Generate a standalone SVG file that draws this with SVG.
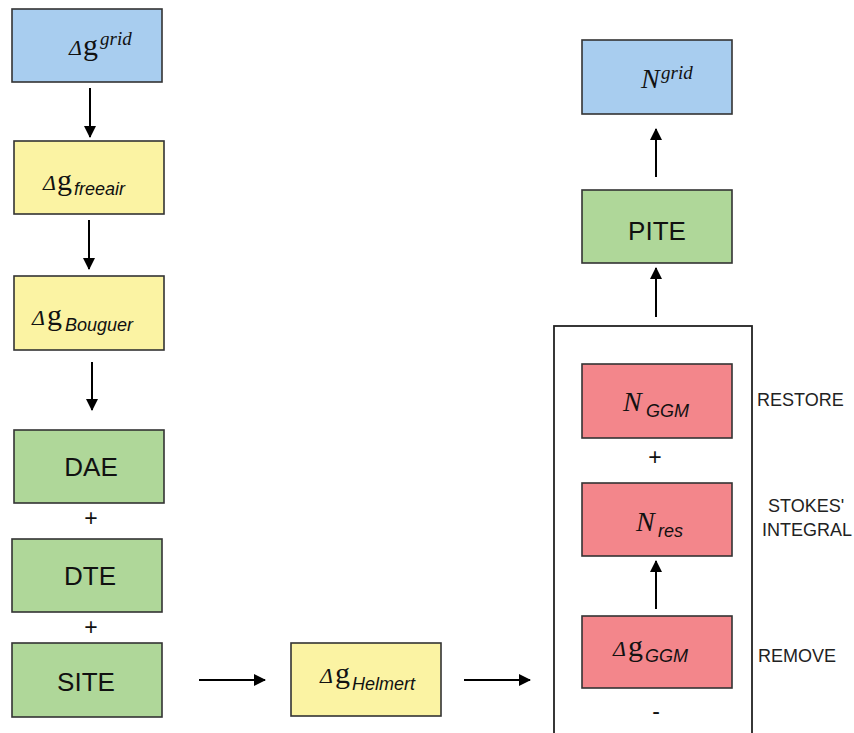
<svg xmlns="http://www.w3.org/2000/svg" width="854" height="733" viewBox="0 0 854 733">
<style>
.box{stroke:#333;stroke-width:1.6}
.blue{fill:#a8cdef}.yel{fill:#fbf3a3}.grn{fill:#afd799}.red{fill:#f3868b}
.lbl{font-family:"Liberation Sans",Arial,sans-serif;font-size:26px;fill:#111;text-anchor:middle}
.side{font-family:"Liberation Sans",Arial,sans-serif;font-size:18px;fill:#222}
.sym{font-family:"Liberation Sans",Arial,sans-serif;font-size:23px;fill:#111;text-anchor:middle}
.d{font-family:"Liberation Serif","Times New Roman",serif;font-style:italic;font-size:22px;fill:#111}
.g{font-family:"Liberation Serif","Times New Roman",serif;font-size:30px;fill:#111}
.N{font-family:"Liberation Serif","Times New Roman",serif;font-style:italic;font-size:28px;fill:#111}
.sup{font-family:"Liberation Serif","Times New Roman",serif;font-style:italic;font-size:19px;fill:#111}
.sub{font-family:"Liberation Sans",Arial,sans-serif;font-style:italic;font-size:18px;fill:#111}
.con{stroke:#000;stroke-width:2;fill:none;marker-end:url(#ah)}
</style>
<defs>
<marker id="ah" markerWidth="12" markerHeight="12" refX="11" refY="6" orient="auto" markerUnits="userSpaceOnUse">
<path d="M0,0 L12,6 L0,12 Z" fill="#000"/>
</marker>
</defs>
<rect width="854" height="733" fill="#fff"/>

<g id="container"><rect x="554" y="326" width="198" height="420" fill="none" stroke="#222" stroke-width="1.8"/></g>

<g id="dg-grid"><rect class="box blue" x="12" y="9" width="150" height="73"/>
<text><tspan class="d" x="69" y="55">Δ</tspan><tspan class="g" x="83" y="55">g</tspan><tspan class="sup" x="100" y="45">grid</tspan></text></g>

<g id="dg-freeair"><rect class="box yel" x="14" y="141" width="150" height="73"/>
<text><tspan class="d" x="43" y="190">Δ</tspan><tspan class="g" x="57" y="190">g</tspan><tspan class="sub" x="74" y="195">freeair</tspan></text></g>

<g id="dg-bouguer"><rect class="box yel" x="14" y="276" width="150" height="74"/>
<text><tspan class="d" x="32" y="325">Δ</tspan><tspan class="g" x="47" y="325">g</tspan><tspan class="sub" x="65" y="331">Bouguer</tspan></text></g>

<g id="dae"><rect class="box grn" x="14" y="430" width="150" height="73"/><text class="lbl" x="91" y="476">DAE</text></g>
<text class="sym" x="91" y="526">+</text>
<g id="dte"><rect class="box grn" x="12" y="539" width="150" height="73"/><text class="lbl" x="90" y="585">DTE</text></g>
<text class="sym" x="91" y="635">+</text>
<g id="site"><rect class="box grn" x="12" y="643" width="150" height="74"/><text class="lbl" x="86" y="691">SITE</text></g>

<g id="dg-helmert"><rect class="box yel" x="291" y="643" width="150" height="73"/>
<text><tspan class="d" x="320" y="683">Δ</tspan><tspan class="g" x="335" y="683">g</tspan><tspan class="sub" x="352" y="690">Helmert</tspan></text></g>

<g id="n-grid"><rect class="box blue" x="582" y="40" width="150" height="74"/>
<text><tspan class="N" x="641" y="88">N</tspan><tspan class="sup" x="661" y="79">grid</tspan></text></g>

<g id="pite"><rect class="box grn" x="582" y="190" width="150" height="73"/><text class="lbl" x="657" y="240">PITE</text></g>

<g id="n-ggm"><rect class="box red" x="582" y="364" width="150" height="74"/>
<text><tspan class="N" x="623" y="411">N</tspan><tspan class="sub" x="646" y="417">GGM</tspan></text></g>
<text class="sym" x="655" y="465">+</text>

<g id="n-res"><rect class="box red" x="582" y="483" width="150" height="73"/>
<text><tspan class="N" x="636" y="531">N</tspan><tspan class="sub" x="658" y="537">res</tspan></text></g>

<g id="dg-ggm"><rect class="box red" x="582" y="616" width="150" height="72"/>
<text><tspan class="d" x="613" y="656">Δ</tspan><tspan class="g" x="628" y="656">g</tspan><tspan class="sub" x="645" y="662">GGM</tspan></text></g>
<text class="sym" x="656" y="719">-</text>

<g id="labels">
<text class="side" x="757" y="406">RESTORE</text>
<text class="side" x="768" y="512">STOKES'</text>
<text class="side" x="762" y="536">INTEGRAL</text>
<text class="side" x="758" y="662">REMOVE</text>
</g>

<g id="connectors">
<line class="con" x1="90" y1="88" x2="90" y2="137"/>
<line class="con" x1="89" y1="220" x2="89" y2="269"/>
<line class="con" x1="92" y1="362" x2="92" y2="410"/>
<line class="con" x1="199" y1="680" x2="265" y2="680"/>
<line class="con" x1="464" y1="680" x2="530" y2="680"/>
<line class="con" x1="656" y1="609" x2="656" y2="561"/>
<line class="con" x1="656" y1="317" x2="656" y2="268"/>
<line class="con" x1="656" y1="177" x2="656" y2="129"/>
</g>
</svg>
